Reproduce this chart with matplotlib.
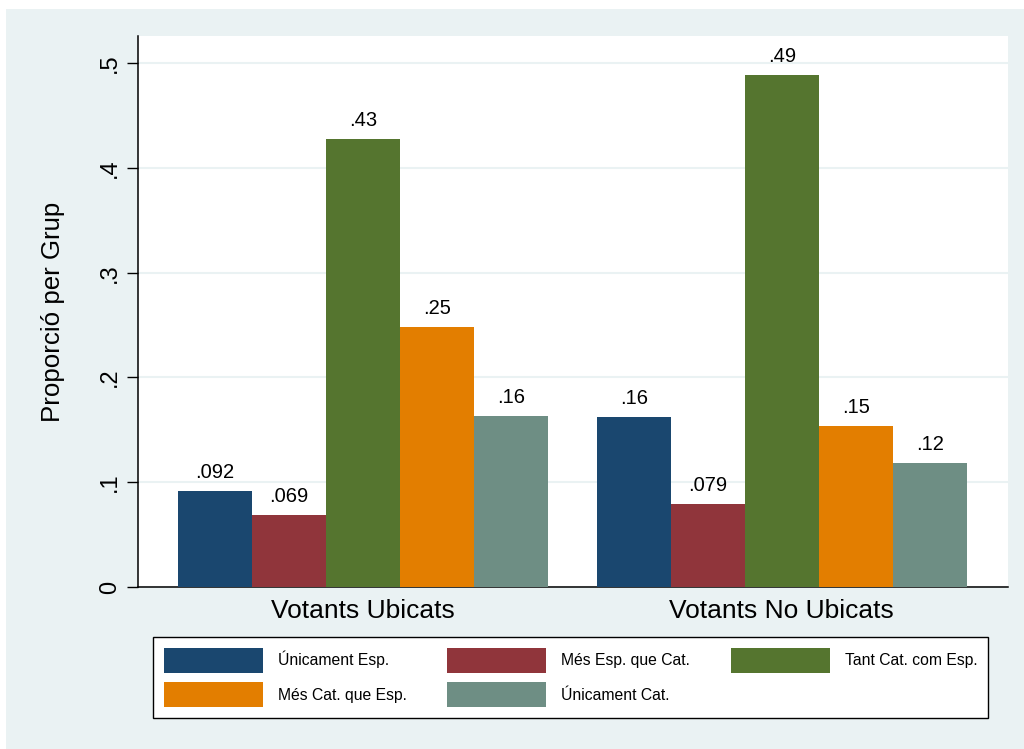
import numpy as np
import matplotlib
matplotlib.use("Agg")
from matplotlib import pyplot as plt
from matplotlib.patches import Rectangle

plt.rcParams['font.family'] = ['Liberation Sans', 'DejaVu Sans']

groups = ['Votants Ubicats', 'Votants No Ubicats']
series = ['Únicament Esp.', 'Més Esp. que Cat.', 'Tant Cat. com Esp.',
          'Més Cat. que Esp.', 'Únicament Cat.']
values = [
    [0.092, 0.162],   # Únicament Esp.
    [0.069, 0.079],   # Més Esp. que Cat.
    [0.428, 0.489],   # Tant Cat. com Esp.
    [0.248, 0.154],   # Més Cat. que Esp.
    [0.163, 0.118],   # Únicament Cat.
]
labels = [
    ['.092', '.16'],
    ['.069', '.079'],
    ['.43', '.49'],
    ['.25', '.15'],
    ['.16', '.12'],
]
yticks = [0, 0.1, 0.2, 0.3, 0.4, 0.5]
ytick_labels = ['0', '.1', '.2', '.3', '.4', '.5']

colors = ['#1A476F', '#90353B', '#55752F', '#E37E00', '#6E8E84']
bg = '#EAF2F3'

fig = plt.figure(figsize=(10.24, 7.49), dpi=100)
fig.patch.set_facecolor('white')
fig.patches.append(Rectangle((6 / 1024, 0), 1, 1 - 9 / 749,
                             transform=fig.transFigure, facecolor=bg,
                             edgecolor='none', zorder=-10))

ax = fig.add_axes([138 / 1024, 1 - 587 / 749, 870 / 1024, 551 / 749])
ax.set_facecolor('white')

x = np.arange(len(groups))
w = 0.1766
handles = []
for i, s in enumerate(series):
    pos = x + (i - 2) * w
    b = ax.bar(pos, values[i], w, color=colors[i], label=s, zorder=3)
    handles.append(b)
    for px, v, lab in zip(pos, values[i], labels[i]):
        ax.text(px, v + 0.0085, lab, ha='center', va='bottom', fontsize=14.5)

ax.set_xlim(-0.537, 1.540)
ax.set_ylim(0, 0.526)
ax.set_xticks(x)
ax.set_xticklabels(groups, fontsize=19)
ax.tick_params(axis='x', length=0, pad=9)
ax.set_yticks(yticks)
ax.set_yticklabels(ytick_labels, fontsize=17, rotation=90, va='center')
ax.tick_params(axis='y', length=8, width=1, pad=4)
ax.yaxis.grid(True, color=bg, linewidth=1.5, zorder=0)
ax.set_axisbelow(True)
for sp in ['top', 'right']:
    ax.spines[sp].set_visible(False)
for sp in ['left', 'bottom']:
    ax.spines[sp].set_linewidth(1.1)
ax.set_ylabel('Proporció per Grup', fontsize=18.6, labelpad=25)

order = [0, 3, 1, 4, 2]
leg = fig.legend([handles[k] for k in order], [series[k] for k in order],
                 ncol=3, loc='upper left',
                 bbox_to_anchor=(153 / 1024, 1 - 637 / 749),
                 fontsize=11.3, frameon=True, fancybox=False,
                 edgecolor='black', facecolor='white', framealpha=1,
                 handlelength=6.3, handleheight=2.07, handletextpad=0.95,
                 columnspacing=2.6, labelspacing=0.6, borderpad=0.7,
                 borderaxespad=0)
leg.get_frame().set_linewidth(1.0)

fig.savefig('out.png', dpi=100)
